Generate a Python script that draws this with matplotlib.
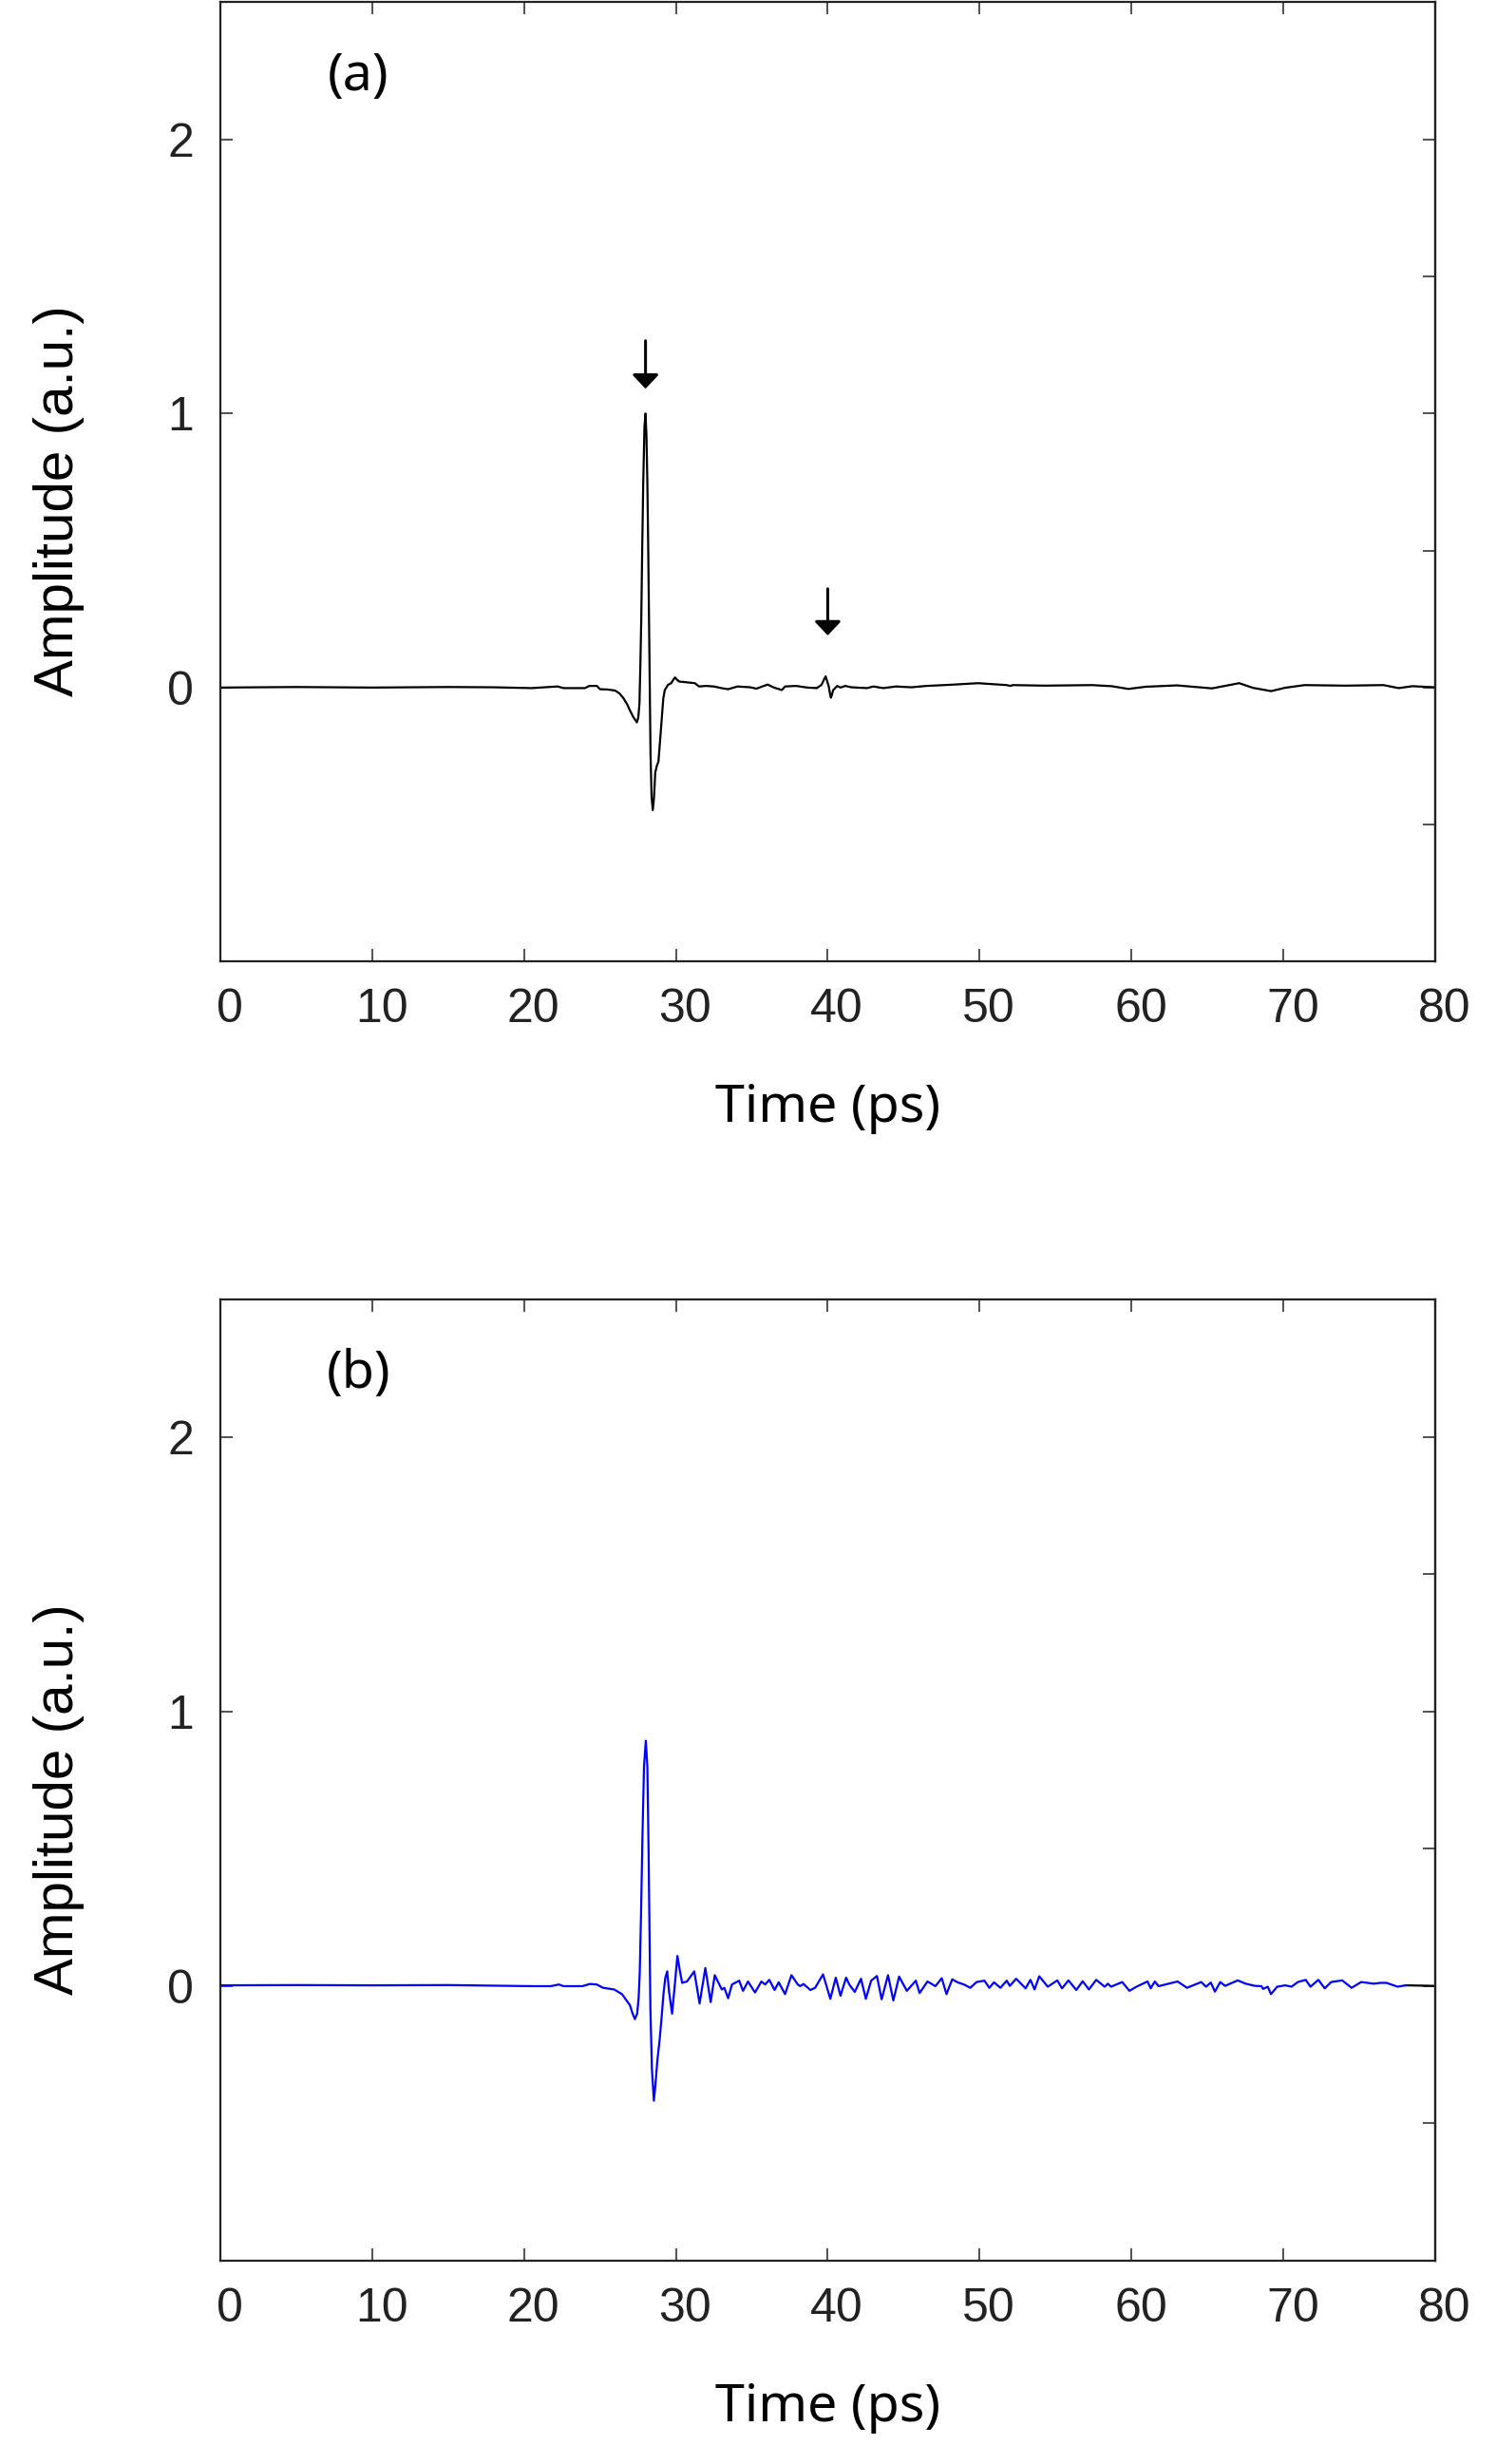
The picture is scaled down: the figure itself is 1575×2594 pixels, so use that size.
import numpy as np
import matplotlib
matplotlib.use('Agg')
import matplotlib.pyplot as plt
from matplotlib.transforms import ScaledTranslation

# panel (a): measured reference pulse
time_a = [0, 5, 10, 15, 18, 20.5, 22.2, 22.6, 24.0, 24.3, 24.8, 25.0, 25.5, 26.0, 26.3,
          26.56, 26.8, 26.97, 27.2, 27.43, 27.52, 27.6, 27.66, 27.72, 27.78, 27.85, 27.93,
          28.0, 28.06, 28.12, 28.18, 28.23, 28.28, 28.33, 28.40, 28.48, 28.56, 28.64, 28.75,
          28.85, 28.95, 29.06, 29.17, 29.27, 29.48, 29.69, 29.85, 29.94, 30.05, 30.21, 30.73,
          31.25, 31.52, 31.98, 32.5, 33.0, 33.43, 34.06, 34.9, 35.3, 36.04, 36.46, 36.98,
          37.19, 37.92, 38.65, 39.28, 39.59, 39.86, 39.98, 40.07, 40.14, 40.21, 40.28, 40.36,
          40.63, 40.84, 41.15, 41.56, 42.6, 43.0, 43.65, 44.5, 45.5, 46.5, 48.03, 49.9, 51.8,
          52.0, 52.2, 54.3, 57.4, 58.7, 59.8, 60.95, 63.0, 65.3, 67.1, 68.0, 69.2, 70.1, 71.4,
          74.1, 76.6, 77.6, 78.5, 80.0]
amp_a = [0.000, 0.002, 0.000, 0.002, 0.001, -0.002, 0.004, -0.002, -0.002, 0.006, 0.006,
         -0.006, -0.007, -0.011, -0.022, -0.040, -0.062, -0.083, -0.108, -0.127, -0.110,
         -0.060, 0.080, 0.250, 0.500, 0.750, 0.950, 1.000, 0.920, 0.750, 0.500, 0.250, 0.000,
         -0.245, -0.400, -0.447, -0.400, -0.310, -0.285, -0.270, -0.200, -0.120, -0.040,
         -0.009, 0.010, 0.016, 0.030, 0.037, 0.030, 0.022, 0.019, 0.016, 0.004, 0.006, 0.004,
         -0.002, -0.006, 0.004, 0.001, -0.004, 0.011, 0.000, -0.009, 0.004, 0.006, 0.000,
         -0.002, 0.010, 0.041, 0.020, 0.004, -0.020, -0.037, -0.025, -0.009, 0.006, 0.000,
         0.006, 0.001, -0.002, 0.004, -0.002, 0.004, 0.001, 0.006, 0.010, 0.016, 0.009, 0.006,
         0.009, 0.007, 0.009, 0.005, -0.005, 0.003, 0.008, -0.003, 0.016, -0.001, -0.013,
         -0.001, 0.009, 0.007, 0.009, -0.002, 0.005, 0.001]

# panel (b): pulse with ringing
time_b = [0, 5, 10, 15, 20.51, 21.76, 22.29, 22.60, 23.85, 24.33, 24.79, 25.20, 25.93, 26.45,
          26.97, 27.15, 27.3, 27.45, 27.55, 27.62, 27.70, 27.80, 27.90, 28.02, 28.12, 28.20,
          28.26, 28.32, 28.42, 28.55, 28.65, 28.78, 28.92, 29.05, 29.18, 29.30, 29.43, 29.55,
          29.75, 29.92, 30.10, 30.25, 30.41, 30.73, 31.21, 31.56, 31.94, 32.29, 32.56, 33.02,
          33.19, 33.44, 33.69, 34.17, 34.42, 34.75, 35.21, 35.63, 35.88, 36.15, 36.50, 36.77,
          37.19, 37.61, 38.03, 38.19, 38.40, 38.86, 39.17, 39.69, 40.17, 40.53, 40.84, 41.21,
          41.42, 41.78, 42.19, 42.51, 42.86, 43.24, 43.55, 43.97, 44.32, 44.70, 45.21, 45.80,
          46.05, 46.57, 47.09, 47.51, 47.82, 48.20, 48.55, 48.97, 49.39, 49.80, 50.32, 50.64,
          50.95, 51.37, 51.79, 51.99, 52.41, 53.03, 53.35, 53.62, 53.93, 54.49, 55.12, 55.43,
          55.85, 56.37, 56.79, 57.20, 57.68, 58.24, 58.45, 58.66, 59.39, 59.87, 60.33, 61.06,
          61.27, 61.54, 61.79, 63.04, 63.66, 64.60, 64.91, 65.23, 65.50, 65.85, 66.17, 67.00,
          67.52, 68.14, 68.56, 68.67, 68.98, 69.19, 69.60, 70.13, 70.54, 70.96, 71.48, 71.79,
          72.31, 72.73, 73.15, 73.88, 74.50, 75.13, 75.96, 76.38, 76.80, 77.53, 78.05]
amp_b = [0.003, 0.004, 0.003, 0.004, 0.000, 0.000, 0.006, 0.000, 0.000, 0.008, 0.006,
         -0.006, -0.012, -0.029, -0.069, -0.100, -0.120, -0.100, -0.040, 0.050, 0.250, 0.550,
         0.800, 0.894, 0.800, 0.500, 0.200, -0.080, -0.300, -0.417, -0.360, -0.270, -0.200,
         -0.120, -0.030, 0.030, 0.054, -0.020, -0.100, 0.000, 0.110, 0.060, 0.012, 0.017,
         0.054, -0.063, 0.066, -0.058, 0.040, -0.012, -0.006, -0.044, 0.006, 0.020, -0.017,
         0.017, -0.023, 0.017, 0.006, 0.023, -0.014, 0.014, -0.029, 0.040, 0.006, 0.000,
         0.008, -0.014, -0.006, 0.043, -0.046, 0.031, -0.035, 0.031, 0.006, -0.021, 0.027,
         -0.046, 0.020, 0.037, -0.048, 0.040, -0.052, 0.035, -0.017, 0.020, -0.025, 0.017,
         0.000, 0.029, -0.029, 0.025, 0.014, 0.006, -0.006, 0.015, 0.020, -0.006, 0.014,
         -0.006, 0.020, 0.001, 0.027, -0.008, 0.023, -0.012, 0.036, -0.002, 0.021, -0.008,
         0.021, -0.014, 0.018, -0.012, 0.023, -0.002, 0.009, -0.002, 0.015, -0.017, -0.002,
         0.017, -0.008, 0.017, 0.000, 0.017, -0.006, 0.015, -0.002, 0.013, -0.020, 0.015,
         0.001, 0.021, 0.009, 0.001, 0.000, -0.010, -0.002, -0.029, -0.002, 0.003, -0.002,
         0.015, 0.023, -0.002, 0.023, -0.008, 0.015, 0.021, -0.006, 0.015, 0.009, 0.012,
         0.012, -0.002, 0.003]
time_b_end = [78.05, 80.0]
amp_b_end = [0.003, 0.001]

# arrows marking the pulses in (a)
arrow_t = [28.0, 40.0]
arrow_top = [1.265, 0.36]
arrow_tip = [1.09, 0.19]

x_ticks = np.arange(0, 81, 10)
y_major = [0, 1, 2]
y_minor = np.arange(-0.5, 2.01, 0.5)

fig = plt.figure(figsize=(15.75, 25.94), dpi=100)
ax_a = fig.add_axes([0.1473, 0.6097, 0.812, 0.3894])
ax_b = fig.add_axes([0.1473, 0.0825, 0.812, 0.3900])

spine_col = '#222222'
shift = ScaledTranslation(7 / 72, 0, fig.dpi_scale_trans)
for ax, label in [(ax_a, '(a)'), (ax_b, '(b)')]:
    ax.set_xlim(0, 80)
    ax.set_ylim(-1, 2.5)
    ax.set_xticks(x_ticks)
    ax.set_yticks(y_major)
    ax.tick_params(direction='in', length=9.5, width=1.1, top=True, right=False,
                   colors=spine_col, labelsize=36, pad=20)
    for lab in ax.get_xticklabels():
        lab.set_family('Liberation Sans')
        lab.set_transform(lab.get_transform() + shift)
    for lab in ax.get_yticklabels():
        lab.set_family('Liberation Sans')
    for s in ax.spines.values():
        s.set_linewidth(1.6)
        s.set_color(spine_col)
    sec = ax.secondary_yaxis('right')
    sec.set_yticks(y_minor)
    sec.set_yticklabels([])
    sec.tick_params(direction='in', length=9.5, width=1.1, colors=spine_col)
    sec.spines['right'].set_linewidth(1.6)
    sec.spines['right'].set_color(spine_col)

    ax.set_xlabel('Time (ps)', fontsize=40, family='Noto Sans', va='center')
    ax.xaxis.set_label_coords(0.5, -0.153)
    ax.set_ylabel('Amplitude (a.u.)', fontsize=42, family='Liberation Sans', va='center')
    ax.yaxis.set_label_coords(-0.133, 0.48)
    ax.text(9.1, 2.23, label, fontsize=40, family='Noto Sans', ha='center', va='center')

ax_a.plot(time_a, amp_a, color='black', lw=1.6)
for t, y0, y1 in zip(arrow_t, arrow_top, arrow_tip):
    ax_a.annotate('', xy=(t, y1), xytext=(t, y0),
                  arrowprops=dict(arrowstyle='-|>,head_length=0.9,head_width=0.85',
                                  lw=2.2, color='black', shrinkA=0, shrinkB=0))

ax_b.plot(time_b_end, amp_b_end, color='black', lw=1.6)
ax_b.plot(time_b, amp_b, color='#0000ff', lw=1.6)

fig.savefig('out.png', dpi=100)
